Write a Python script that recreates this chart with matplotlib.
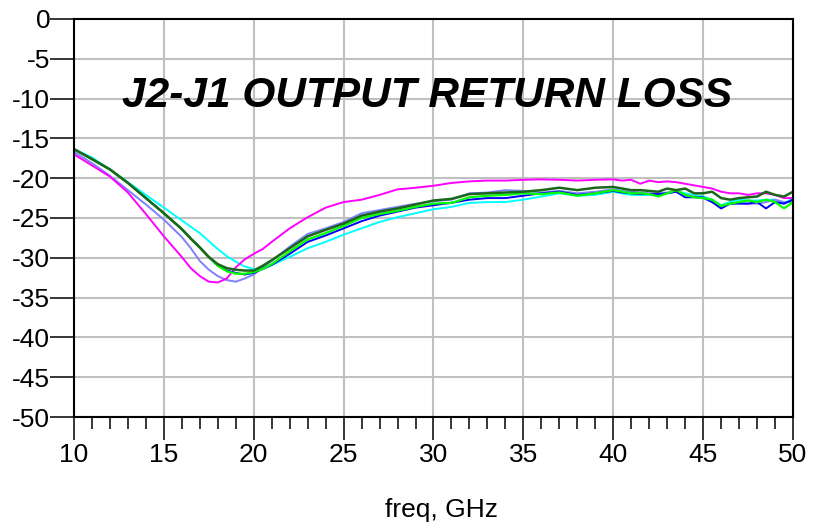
import matplotlib
matplotlib.use("Agg")
import matplotlib.pyplot as plt
from matplotlib.ticker import MultipleLocator

plt.rcParams["font.family"] = ["Liberation Sans", "DejaVu Sans"]
plt.rcParams["axes.unicode_minus"] = False

# frequency points, GHz
freq = [10, 11, 12, 13, 14, 15, 16,
        16.5, 17, 17.5, 18, 18.5, 19, 19.5, 20, 20.5, 21,
        22, 23, 24, 25, 26, 27, 28, 29, 30, 31, 32, 33, 34, 35, 36, 37, 38, 39, 40,
        40.5, 41, 41.5, 42, 42.5, 43, 43.5, 44, 44.5, 45, 45.5, 46, 46.5, 47, 47.5,
        48, 48.5, 49, 49.5, 50]

# return loss, dB (one trace per unit)
s_magenta = [-17.0, -18.4, -19.8, -21.8, -24.5, -27.3, -29.9,
             -31.3, -32.3, -33.0, -33.1, -32.6, -31.2, -30.2, -29.5, -28.9, -28.0,
             -26.3, -24.9, -23.7, -23.0, -22.7, -22.1, -21.4, -21.2, -20.95, -20.6, -20.4,
             -20.3, -20.3, -20.2, -20.15, -20.2, -20.3, -20.2, -20.15,
             -20.3, -20.2, -20.7, -20.3, -20.5, -20.4, -20.5, -20.7, -20.9, -21.1, -21.3,
             -21.7, -21.9, -21.9, -22.1, -21.9, -21.9, -22.1, -22.5, -22.5]
s_slate = [-16.7, -18.1, -19.7, -21.5, -23.3, -25.2, -27.4,
           -28.8, -30.4, -31.5, -32.3, -32.8, -33.0, -32.6, -32.1, -31.2, -30.4,
           -28.6, -27.0, -26.3, -25.5, -24.4, -24.0, -23.6, -23.2, -22.9, -22.7, -21.9,
           -21.8, -21.5, -21.6, -21.8, -21.6, -21.9, -21.7, -21.4,
           -21.6, -21.7, -21.8, -21.9, -21.9, -21.8, -21.7, -22.1, -22.3, -22.5, -23.0,
           -23.5, -23.2, -23.1, -23.2, -23.2, -23.0, -22.7, -23.0, -23.0]
s_cyan = [-16.35, -17.4, -18.9, -20.5, -22.1, -23.7, -25.3,
          -26.1, -26.9, -27.9, -28.9, -29.8, -30.5, -31.1, -31.4, -31.4, -30.9,
          -29.9, -28.8, -28.0, -27.1, -26.3, -25.5, -24.9, -24.4, -23.9, -23.6, -23.1,
          -23.0, -23.0, -22.7, -22.3, -21.9, -22.2, -22.1, -21.7,
          -21.9, -22.1, -22.1, -22.1, -22.0, -21.9, -21.6, -21.9, -22.1, -22.3, -22.7,
          -23.4, -23.0, -22.7, -22.8, -22.8, -22.7, -22.7, -23.2, -22.5]
s_blue = [-16.35, -17.6, -18.9, -20.6, -22.5, -24.4, -26.4,
          -27.6, -28.7, -29.9, -31.0, -31.6, -31.9, -32.1, -31.9, -31.4, -30.9,
          -29.5, -28.0, -27.2, -26.3, -25.4, -24.7, -24.2, -23.7, -23.4, -23.1, -22.7,
          -22.5, -22.5, -22.2, -21.9, -21.7, -22.1, -21.9, -21.6,
          -21.8, -21.9, -22.0, -22.0, -22.0, -21.9, -21.7, -22.4, -22.4, -22.4, -23.0,
          -23.8, -23.2, -23.2, -23.2, -23.0, -23.8, -23.0, -23.2, -22.7]
s_lime = [-16.35, -17.6, -18.9, -20.6, -22.5, -24.4, -26.4,
          -27.6, -28.7, -29.9, -31.0, -31.7, -32.0, -32.0, -31.8, -31.4, -30.8,
          -29.2, -27.7, -26.9, -26.0, -25.0, -24.5, -24.1, -23.6, -23.2, -23.1, -22.4,
          -22.2, -22.1, -21.9, -22.0, -21.8, -22.2, -21.9, -21.5,
          -21.7, -21.9, -21.9, -22.0, -22.3, -21.9, -21.5, -22.1, -22.4, -22.5, -22.7,
          -23.5, -23.2, -23.0, -22.8, -23.0, -22.7, -23.0, -23.8, -23.0]
s_dkgreen = [-16.35, -17.6, -18.9, -20.6, -22.5, -24.4, -26.4,
             -27.6, -28.7, -29.9, -30.8, -31.3, -31.5, -31.6, -31.6, -31.0, -30.3,
             -28.8, -27.3, -26.5, -25.7, -24.7, -24.2, -23.8, -23.3, -22.8, -22.6, -22.0,
             -21.9, -21.8, -21.7, -21.5, -21.2, -21.5, -21.2, -21.1,
             -21.3, -21.5, -21.5, -21.6, -21.7, -21.3, -21.5, -21.3, -21.9, -21.9, -21.7,
             -22.5, -22.7, -22.5, -22.4, -22.3, -21.7, -22.1, -22.3, -21.7]

fig = plt.figure(figsize=(8.13, 5.27), dpi=100)
ax = fig.add_axes([0.091, 0.2087, 0.8844, 0.7553])

ax.plot(freq, s_cyan, color="#00ffff", lw=1.4)
ax.plot(freq, s_slate, color="#8080ff", lw=1.4)
ax.plot(freq, s_magenta, color="#ff00ff", lw=1.4)
ax.plot(freq, s_blue, color="#0000ff", lw=1.4)
ax.plot(freq, s_lime, color="#00ff00", lw=1.6)
ax.plot(freq, s_dkgreen, color="#1a661a", lw=1.8)

ax.set_xlim(10, 50)
ax.set_ylim(-50, 0)
ax.xaxis.set_major_locator(MultipleLocator(5))
ax.xaxis.set_minor_locator(MultipleLocator(1))
ax.yaxis.set_major_locator(MultipleLocator(5))

ax.grid(True, which="major", color="#c0c0c0", lw=1.5)
for s in ax.spines.values():
    s.set_linewidth(1.5)

ax.tick_params(axis="x", which="major", direction="out", length=16.5, width=1.1,
               labelsize=19, pad=2)
ax.tick_params(axis="x", which="minor", direction="out", length=8.5, width=1.1)
ax.tick_params(axis="y", which="major", direction="out", length=17, width=1.1,
               labelsize=19, pad=0)

fig.canvas.draw()
# no tick line at 50 GHz and at 0 dB
ax.xaxis.get_major_ticks()[-1].tick1line.set_visible(False)
ax.yaxis.get_major_ticks()[-1].tick1line.set_visible(False)

fig.text(427.5 / 813, 1 - 96 / 527, "J2-J1 OUTPUT RETURN LOSS", fontsize=30.5,
         fontweight="bold", fontstyle="italic", ha="center", va="center")
fig.text(441 / 813, 1 - 510 / 527, "freq, GHz", fontsize=19, ha="center", va="center")

fig.savefig("out.png", dpi=100)
